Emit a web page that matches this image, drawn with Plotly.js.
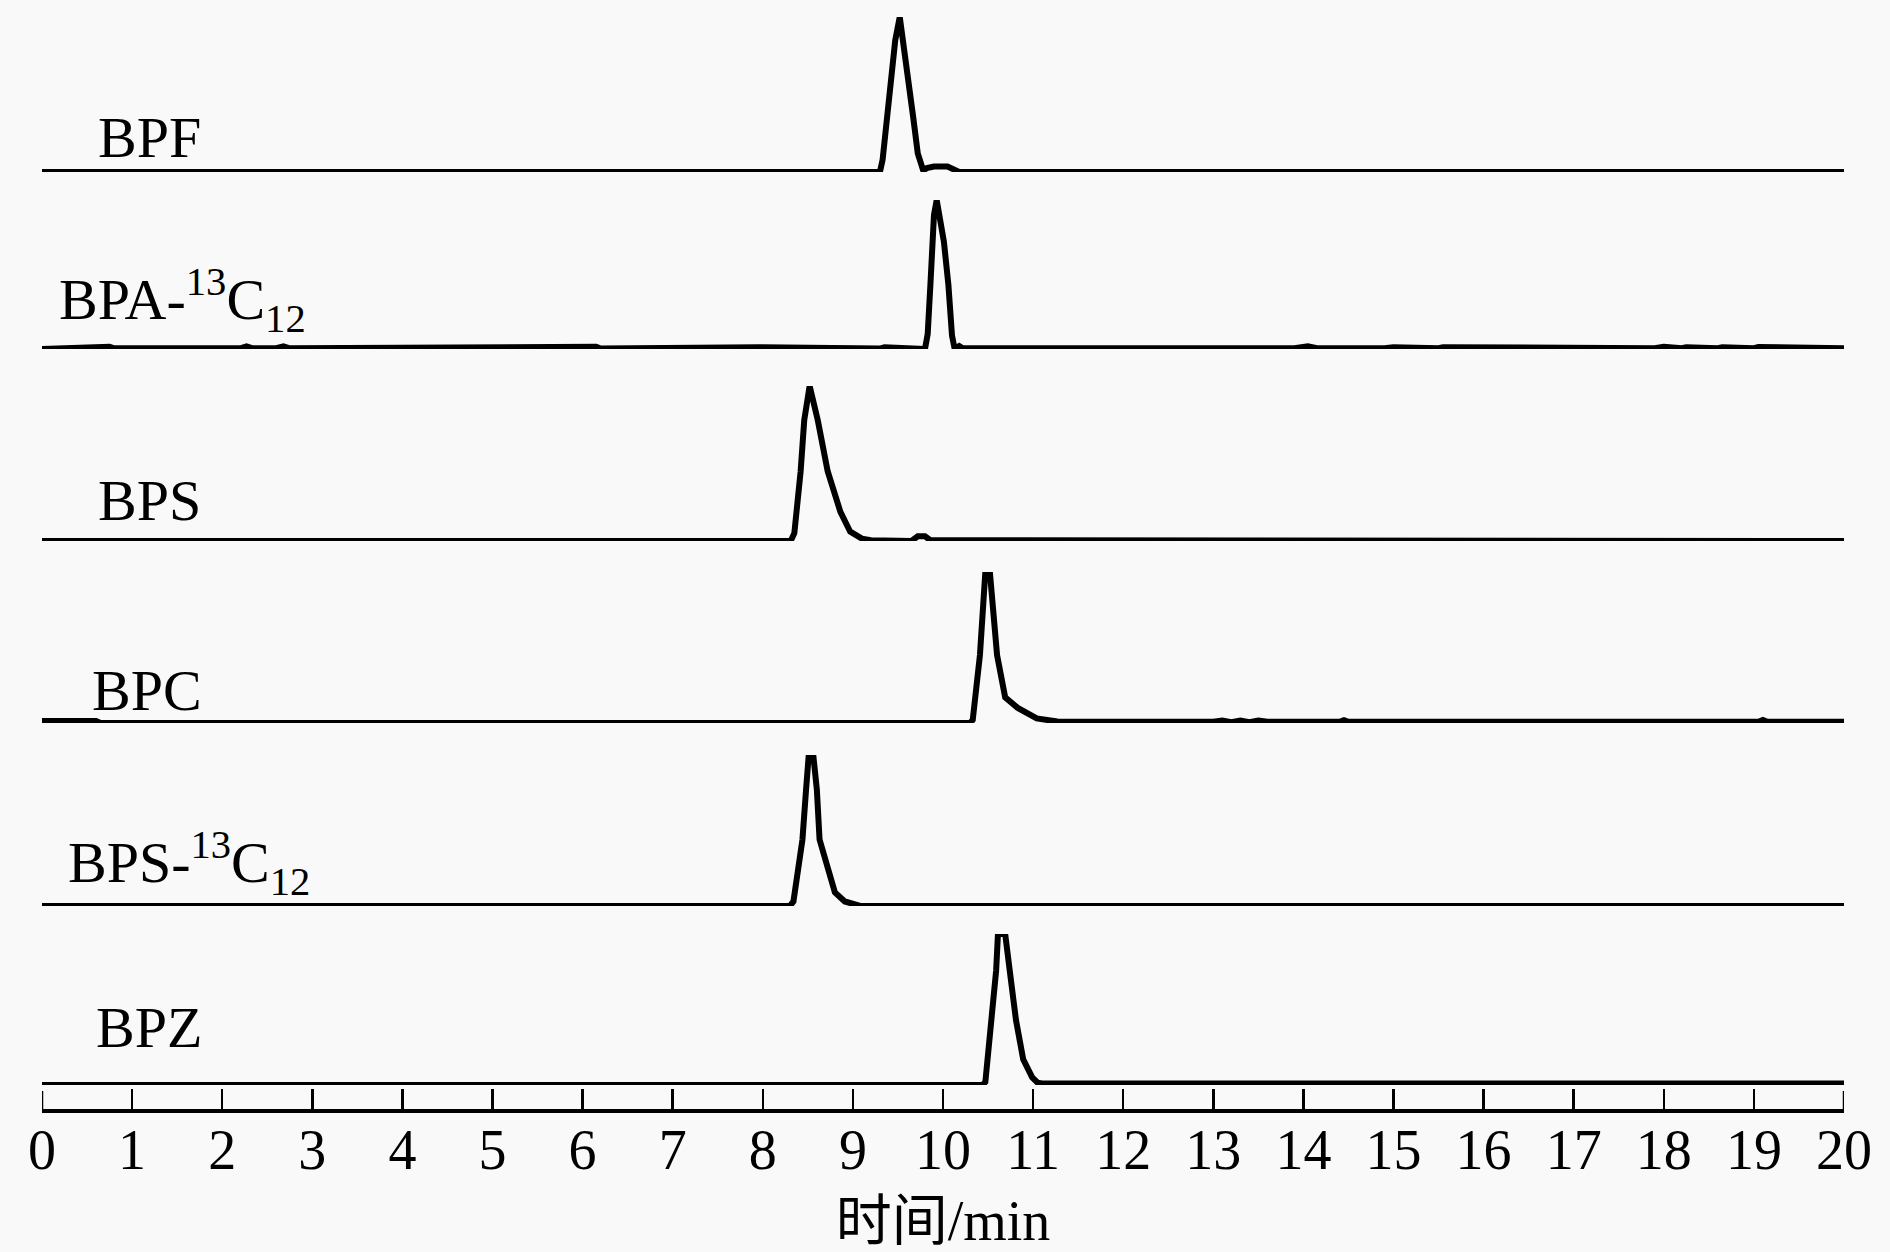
<!DOCTYPE html>
<html>
<head>
<meta charset="utf-8">
<script src="https://cdn.plot.ly/plotly-3.0.1.min.js"></script>
<style>html,body{margin:0;padding:0;background:#f9f9f9;}#chart{width:1890px;height:1252px;}</style>
</head>
<body>
<div id="chart"></div>
<script>
// Retention time (min) and relative intensity (%)
const bpfTime = [0, 2.1, 2.2, 5.3, 5.4, 9.30, 9.33, 9.41, 9.47, 9.52, 9.60, 9.67, 9.72, 9.78, 9.82, 9.90, 10.05, 10.12, 10.18, 20];
const bpfInt  = [0, 0, 0.5, 0.5, 0, 0, 8, 57, 85, 100, 68, 35, 12, 1, 2.5, 3.5, 3.5, 1.5, 0, 0];

const bpaTime = [0, 0.7, 0.75, 0.8, 1.3, 1.35, 2.2, 2.27, 2.34, 2.6, 2.68, 2.75, 3.4, 3.45, 4.3, 4.4, 4.5, 6.1, 6.15, 6.2, 6.9, 6.95, 7.5, 7.55, 7.9, 7.95, 9.3, 9.35, 9.80, 9.83, 9.86, 9.90, 9.93, 9.97, 10.01, 10.06, 10.10, 10.13, 10.18, 10.22, 12.0, 12.05, 13.9, 14.05, 14.15, 14.9, 15.0, 15.5, 15.55, 17.9, 18.0, 18.2, 18.25, 18.6, 18.65, 19.0, 19.05, 20];
const bpaInt  = [0, 0.5, 1.5, 0.5, 0.5, 1.2, 0.5, 1.8, 0.5, 0.5, 1.8, 0.5, 0.5, 1.2, 0.5, 1.5, 0.5, 0.5, 1.5, 0.3, 0.5, 1.2, 0.5, 1.2, 0.5, 1.2, 0.3, 1.2, 0, 10, 43, 90, 100, 85, 72, 43, 9, 0, 2, 0.5, 0.5, 1.2, 0.5, 1.8, 0.5, 0.5, 1.2, 0.5, 1.2, 0.5, 1.5, 0.5, 1.2, 0.5, 1.2, 0.5, 1.3, 0.5];

const bpsTime = [0, 8.31, 8.35, 8.42, 8.46, 8.52, 8.61, 8.72, 8.86, 8.97, 9.10, 9.20, 9.65, 9.72, 9.80, 9.86, 20];
const bpsInt  = [0, 0, 5, 45, 78, 100, 78, 45, 19, 6, 1.5, 0.5, 0, 3, 3, 0.5, 0];

const bpcTime = [0, 0.6, 0.65, 10.30, 10.33, 10.41, 10.47, 10.52, 10.60, 10.69, 10.83, 11.04, 11.27, 11.5, 13.0, 13.1, 13.2, 13.3, 13.4, 13.5, 13.6, 14.4, 14.45, 14.5, 19.05, 19.1, 19.15, 19.75, 19.8, 19.85, 20];
const bpcInt  = [1.3, 1.3, 0, 0, 2, 45, 100, 100, 45, 17, 10, 3, 1, 0.8, 0.8, 1.6, 0.6, 1.6, 0.6, 1.6, 0.8, 0.8, 1.8, 0.8, 0.8, 2, 0.8, 0.8, 1.6, 0.8, 0.8];

const bps13Time = [0, 1.0, 1.05, 2.5, 2.55, 8.30, 8.34, 8.44, 8.48, 8.51, 8.56, 8.60, 8.63, 8.71, 8.80, 8.91, 9.08, 20];
const bps13Int  = [0, 0, 0.4, 0.4, 0, 0, 3, 44, 77, 100, 100, 77, 44, 26, 9, 3, 0, 0];

const bpzTime = [0, 10.44, 10.47, 10.54, 10.59, 10.61, 10.69, 10.74, 10.81, 10.89, 10.99, 11.05, 11.1, 20];
const bpzInt  = [0, 0, 2, 43, 76, 100, 100, 76, 43, 17, 5, 1.5, 1.0, 1.0];

const seriesNames = ["BPF", "BPA-<sup>13</sup>C<sub>12</sub>", "BPS", "BPC", "BPS-<sup>13</sup>C<sub>12</sub>", "BPZ"];
const xTicks = [0,1,2,3,4,5,6,7,8,9,10,11,12,13,14,15,16,17,18,19,20];

const seriesTimes = [bpfTime, bpaTime, bpsTime, bpcTime, bps13Time, bpzTime];
const seriesInts  = [bpfInt, bpaInt, bpsInt, bpcInt, bps13Int, bpzInt];

// layout geometry (pixels)
const H = 1252, PB = 1140;          // plot area bottom
const axisY = 1111, tickTop = 1091, labelLineY = 1112;
const baselines = [172, 349, 541, 723, 906, 1085];
const peaks     = [17, 200, 386, 572, 755, 934];
const labelLeft = [96, 57, 96, 90, 66, 94];
const labelMid  = [137, 300, 500, 690, 863, 1027];

const frac = p => (PB - p) / PB;

const traces = seriesTimes.map((t, i) => ({
  x: t, y: seriesInts[i], type: 'scatter', mode: 'lines',
  line: {color: '#000', width: 6, shape: 'linear'},
  xaxis: 'x', yaxis: i === 0 ? 'y' : 'y' + (i + 1),
  hoverinfo: 'skip', showlegend: false
}));

const layout = {
  width: 1890, height: H,
  margin: {l: 42, r: 46, t: 0, b: H - PB},
  paper_bgcolor: '#f9f9f9', plot_bgcolor: '#f9f9f9',
  showlegend: false,
  font: {family: 'Liberation Serif, "Times New Roman", serif', color: '#000'},
  xaxis: {
    range: [0, 20], tickvals: xTicks, showticklabels: false,
    ticks: 'inside', ticklen: 20, tickwidth: 2.5, tickcolor: '#000',
    showline: true, linewidth: 4, linecolor: '#000', mirror: false,
    showgrid: false, zeroline: false, anchor: 'free', position: frac(axisY)
  },
  xaxis2: {
    range: [0, 20], overlaying: 'x', tickvals: xTicks, ticktext: xTicks.map(String),
    ticks: '', showline: false, showgrid: false, zeroline: false,
    anchor: 'free', position: frac(labelLineY), ticklabelstandoff: 0,
    tickfont: {family: 'Liberation Serif, serif', size: 56, color: '#000'},
    title: {text: '时间/min', standoff: 20,
      font: {family: 'Liberation Serif, "Noto Sans CJK SC", serif', size: 56, color: '#000'}}
  },
  shapes: [xTicks[0], xTicks[xTicks.length - 1]].map(v => ({
    type: 'line', xref: 'x', yref: 'paper', x0: v, x1: v,
    y0: frac(axisY), y1: frac(tickTop), line: {color: '#000', width: 2.5}
  })),
  annotations: seriesNames.map((n, i) => ({
    text: n, xref: 'paper', yref: 'paper',
    x: (labelLeft[i] - 42) / 1802, y: frac(labelMid[i]),
    xanchor: 'left', yanchor: 'middle', showarrow: false,
    font: {family: 'Liberation Serif, serif', size: 58, color: '#000'}
  }))
};

seriesNames.forEach((n, i) => {
  const key = i === 0 ? 'yaxis' : 'yaxis' + (i + 1);
  layout[key] = {
    domain: [frac(baselines[i]), frac(peaks[i])],
    range: [0, 100], visible: false, fixedrange: true,
    anchor: 'x'
  };
});

// empty trace so xaxis2 is drawn
traces.push({x: [0, 20], y: [null, null], xaxis: 'x2', yaxis: 'y', type: 'scatter',
  mode: 'lines', hoverinfo: 'skip', showlegend: false});

Plotly.newPlot('chart', traces, layout, {staticPlot: true, displayModeBar: false});
</script>
</body>
</html>
